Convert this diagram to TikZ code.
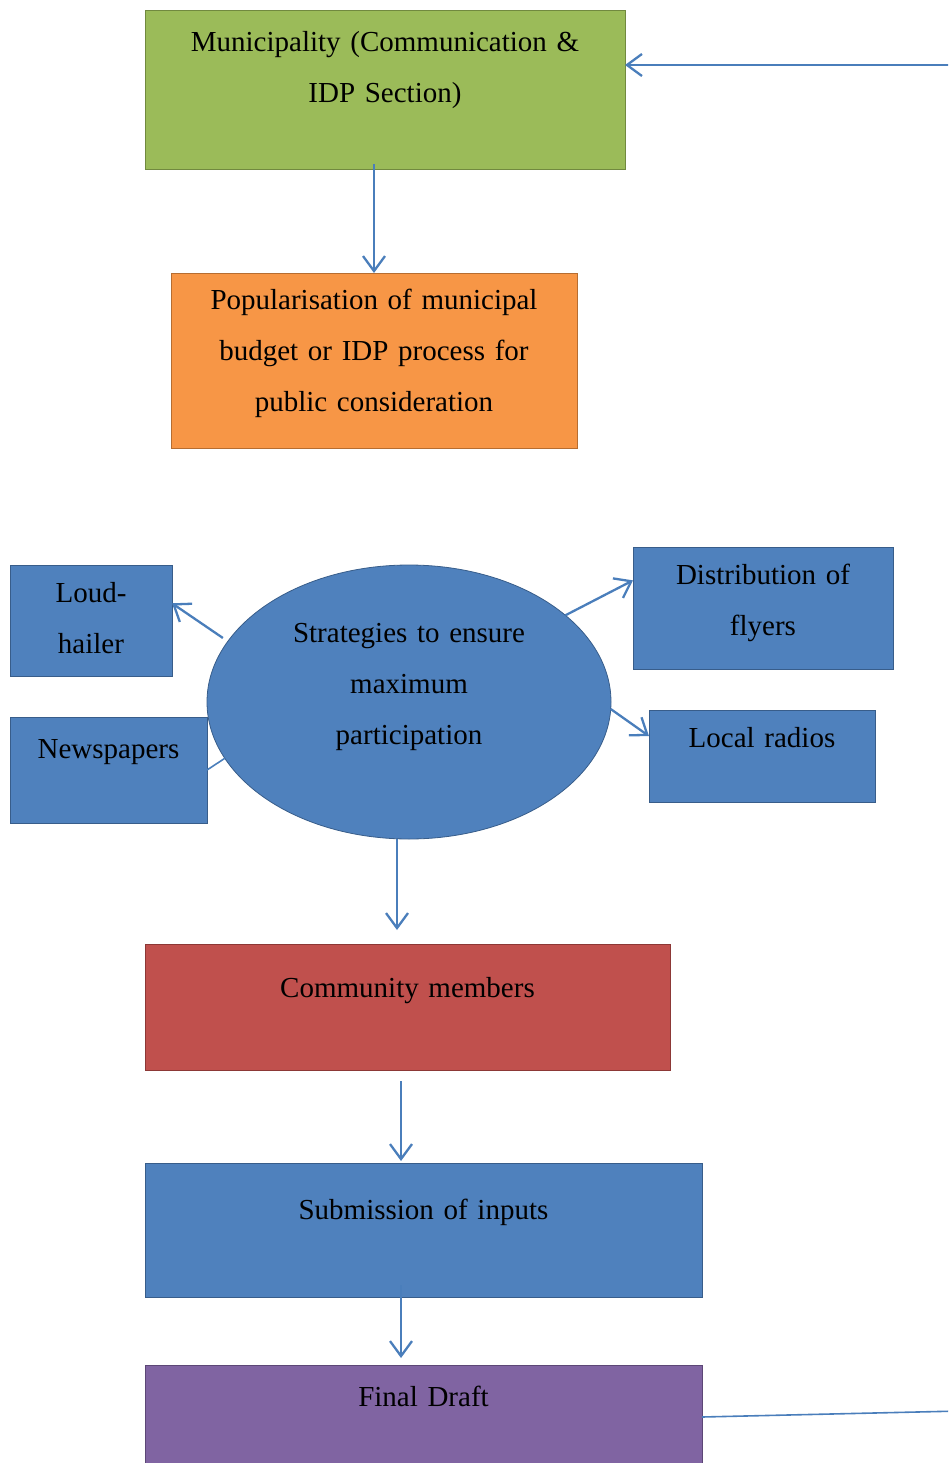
\documentclass[tikz,border=0pt]{standalone}
\usepackage{fontspec}
\setmainfont{Liberation Serif}
\usetikzlibrary{shapes.geometric,arrows.meta,calc}
\definecolor{accgreen}{HTML}{9BBB59}
\definecolor{accgreendk}{HTML}{71893F}
\definecolor{accorange}{HTML}{F79646}
\definecolor{accorangedk}{HTML}{B66D31}
\definecolor{accblue}{HTML}{4F81BD}
\definecolor{accbluedk}{HTML}{385D8A}
\definecolor{accred}{HTML}{C0504D}
\definecolor{accreddk}{HTML}{8C3836}
\definecolor{accpurple}{HTML}{8064A2}
\definecolor{accpurpledk}{HTML}{5C4776}
\definecolor{linkblue}{HTML}{4A7EBB}

\begin{document}
\begin{tikzpicture}[x=1pt,y=-1pt,
  box/.style={rectangle,draw,line width=0.8pt,inner sep=0pt,outer sep=0pt,
    align=center,anchor=north west,font=\fontsize{29}{51}\selectfont},
  bluebox/.style={box,fill=accblue,draw=accbluedk},
  arr/.style={draw=linkblue,line width=2.3pt,-{Straight Barb[length=15pt,width=22pt]}},
  link/.style={draw=linkblue,line width=1.6pt}]
\clip (0,0) rectangle (948,1463);
\node[box,fill=accgreen,draw=accgreendk,text width=480pt,text height=42pt,text depth=117pt]
  (muni) at (145,10) {Municipality (Communication \&\\IDP Section)};
\node[box,fill=accorange,draw=accorangedk,text width=406pt,text height=36pt,text depth=139pt]
  (popu) at (171,273) {Popularisation of municipal\\budget or IDP process for\\public consideration};
\node[ellipse,fill=accblue,draw=accbluedk,line width=0.8pt,inner sep=0pt,outer sep=0pt,
  minimum width=404pt,minimum height=274pt,text width=236pt,align=center,
  text height=20pt,text depth=140pt,font=\fontsize{29}{51}\selectfont]
  (strat) at (409,702) {Strategies to ensure\\maximum\\participation};
\node[bluebox,text width=162pt,text height=37pt,text depth=74pt] (loud) at (10,565) {Loud-\\hailer};
\node[bluebox,text width=197pt,text height=41pt,text depth=65pt] (news) at (10,717) {Newspapers};
\node[bluebox,text width=260pt,text height=37pt,text depth=85pt] (flyer) at (633,547) {Distribution of\\flyers};
\node[bluebox,text width=226pt,text height=37pt,text depth=55pt] (radio) at (649,710) {Local radios};
\node[box,fill=accred,draw=accreddk,text width=525pt,text height=53pt,text depth=73pt]
  (comm) at (145,944) {Community members};
\node[bluebox,text width=557pt,text height=56pt,text depth=78pt] (subm) at (145,1163) {Submission of inputs};
\node[box,fill=accpurple,draw=accpurpledk,text width=557pt,text height=41pt,text depth=135pt]
  (final) at (145,1365) {Final Draft};

\coordinate (back) at (960,65);
\coordinate (out) at (960,1411);
\draw[arr] (back) -- (back -| muni.east);
\draw[arr] ($(popu.north |- muni.south)+(0,-5)$) -- (popu.north);
\draw[arr] ($(strat.161)+(-6,-2)$) -- (loud.12);
\draw[link] (strat.197) -- (news.east);
\draw[arr] (strat.29) -- (flyer.168);
\draw[arr] (strat.-2) -- (radio.170);
\draw[arr] ($(strat.south)+(-12,0)$) -- ($(comm.north)+(-10.5,-14)$);
\draw[arr] ($(comm.south)+(-6.5,11)$) -- ($(subm.north)+(-22.5,-2)$);
\draw[arr] ($(subm.south)+(-22.5,-12)$) -- ($(final.north)+(-22.5,-7)$);
\draw[link] ($(final.north east)+(0,52)$) -- (out);
\end{tikzpicture}
\end{document}
